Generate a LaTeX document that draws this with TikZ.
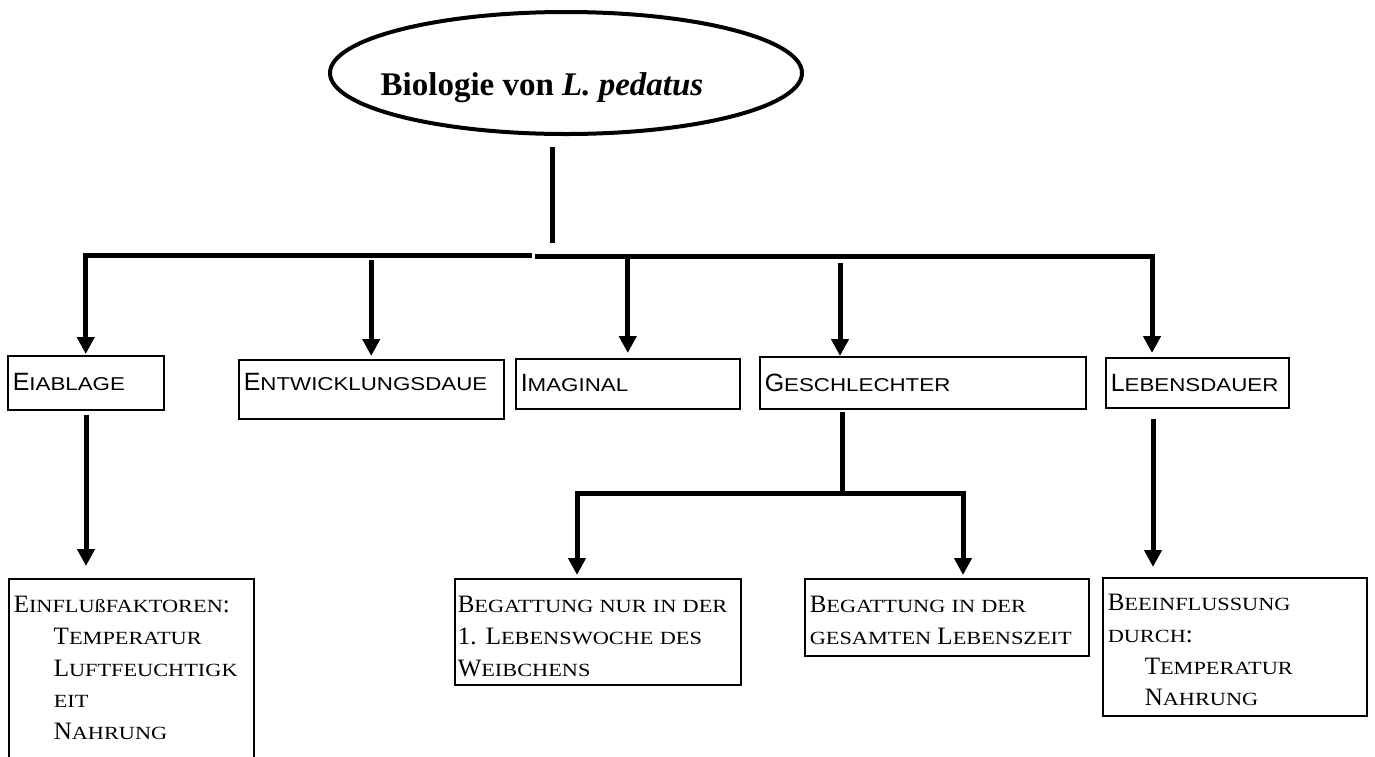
\documentclass[tikz,border=0pt]{standalone}
\usepackage{fontspec}
\setmainfont{Liberation Serif}
\newfontfamily\arial{Liberation Sans}
\newfontfamily\serifbreit[FakeStretch=1.2]{Liberation Serif}
\newfontfamily\sansbreit[FakeStretch=1.2]{Liberation Sans}
\usetikzlibrary{shapes.geometric,arrows.meta}

\newcommand\gs[1]{{\arial\fontsize{25}{31.7}\selectfont #1}}
\newcommand\gr[1]{{\rmfamily\fontsize{25}{31.7}\selectfont #1}}

\tikzset{
  kasten/.style={draw,line width=1.5pt,anchor=north west,align=left,inner xsep=5pt,inner ysep=0pt},
  oben/.style={kasten,font=\sansbreit\fontsize{18.6}{22}\selectfont},
  unten/.style={kasten,font=\serifbreit\fontsize{18.6}{31.7}\selectfont},
  balken/.style={line width=5pt},
  pfeil/.style={balken,-{Triangle[width=17pt,length=17pt]}}
}

\begin{document}
\begin{tikzpicture}[x=1pt,y=-1pt]
\useasboundingbox (0,0) rectangle (1375,756);

\node [draw,ellipse,line width=4pt,minimum width=472pt,minimum height=122pt] (titel) at (566,73) {};
\node [anchor=base,font=\fontsize{33}{40}\selectfont\bfseries] (titeltext) at (542,95) {Biologie von \textit{L. pedatus}};

\node [oben,text width=146pt,text height=35pt,text depth=19pt] (eiablage)    at (   7,355) {\gs{E}IABLAGE};
\node [oben,text width=255pt,text height=31pt,text depth=28pt] (entwicklung) at ( 238,359) {\gs{E}NTWICKLUNGSDAUE};
\node [oben,text width=214pt,text height=33pt,text depth=17pt] (imaginal)    at ( 515,358) {\gs{I}MAGINAL};
\node [oben,text width=316pt,text height=35pt,text depth=17pt] (geschlecht)  at ( 759,356) {\gs{G}ESCHLECHTER};
\node [oben,text width=173pt,text height=34pt,text depth=16pt] (lebensdauer) at (1105,357) {\gs{L}EBENSDAUER};

\node [unten,text width=235pt,text height=34pt,text depth=148pt] (einfluss) at (   8,578)
	{\gr{E}INFLUßFAKTOREN\gr{:}\\
	 \hspace*{40pt}\gr{T}EMPERATUR\\
	 \hspace*{40pt}\gr{L}UFTFEUCHTIGK\\
	 \hspace*{40pt}EIT\\
	 \hspace*{40pt}\gr{N}AHRUNG};
\node [unten,inner xsep=3pt,text width=280pt,text height=34pt,text depth=72pt] (nurerste) at ( 454,578)
	{\gr{B}EGATTUNG NUR IN DER\\
	 \gr{1. L}EBENSWOCHE DES\\
	 \gr{W}EIBCHENS};
\node [unten,text width=274pt,text height=34pt,text depth=43pt] (gesamt)   at ( 804,578)
	{\gr{B}EGATTUNG IN DER\\
	 GESAMTEN \gr{L}EBENSZEIT};
\node [unten,text width=254pt,text height=33pt,text depth=105pt] (beeinfl) at (1102,577)
	{\gr{B}EEINFLUSSUNG\\
	 DURCH\gr{:}\\
	 \hspace*{37pt}\gr{T}EMPERATUR\\
	 \hspace*{37pt}\gr{N}AHRUNG};

\coordinate (stamm)  at (552,243);
\coordinate (links)  at (532,255);
\coordinate (rechts) at (535,256.5);
\coordinate (gabel)  at (842,493);

% Verteiler unter dem Titel
\draw [balken,shorten <=11pt] (titel.south -| stamm) -- (stamm);
\draw [pfeil,shorten >=1pt] (links) -| (eiablage);
\draw [pfeil,shorten >=4pt] (rechts) -| ([xshift=47pt]lebensdauer.north west);
\draw [pfeil,shorten <=5pt,shorten >=3pt] (entwicklung.north |- links) -- (entwicklung);
\draw [pfeil,shorten >=5pt] (imaginal.north |- rechts) -- (imaginal);
\draw [pfeil,shorten <=6pt] ([xshift=81pt]geschlecht.north west |- rechts) -- ([xshift=81pt]geschlecht.north west);

% zweite Ebene
\draw [pfeil,shorten <=4pt,shorten >=12pt] ([xshift=79pt]eiablage.south west) -- ([xshift=78pt]einfluss.north west);
\draw [balken,shorten <=2pt] ([xshift=83pt]geschlecht.south west) -- (gabel);
\draw [pfeil,shorten >=3pt] (gabel) -| ([xshift=123pt]nurerste.north west);
\draw [pfeil,shorten >=3pt] (gabel) -| ([xshift=159pt]gesamt.north west);
\draw [pfeil,shorten <=10pt,shorten >=10pt] ([xshift=48pt]lebensdauer.south west) -- ([xshift=51pt]beeinfl.north west);
\end{tikzpicture}
\end{document}
